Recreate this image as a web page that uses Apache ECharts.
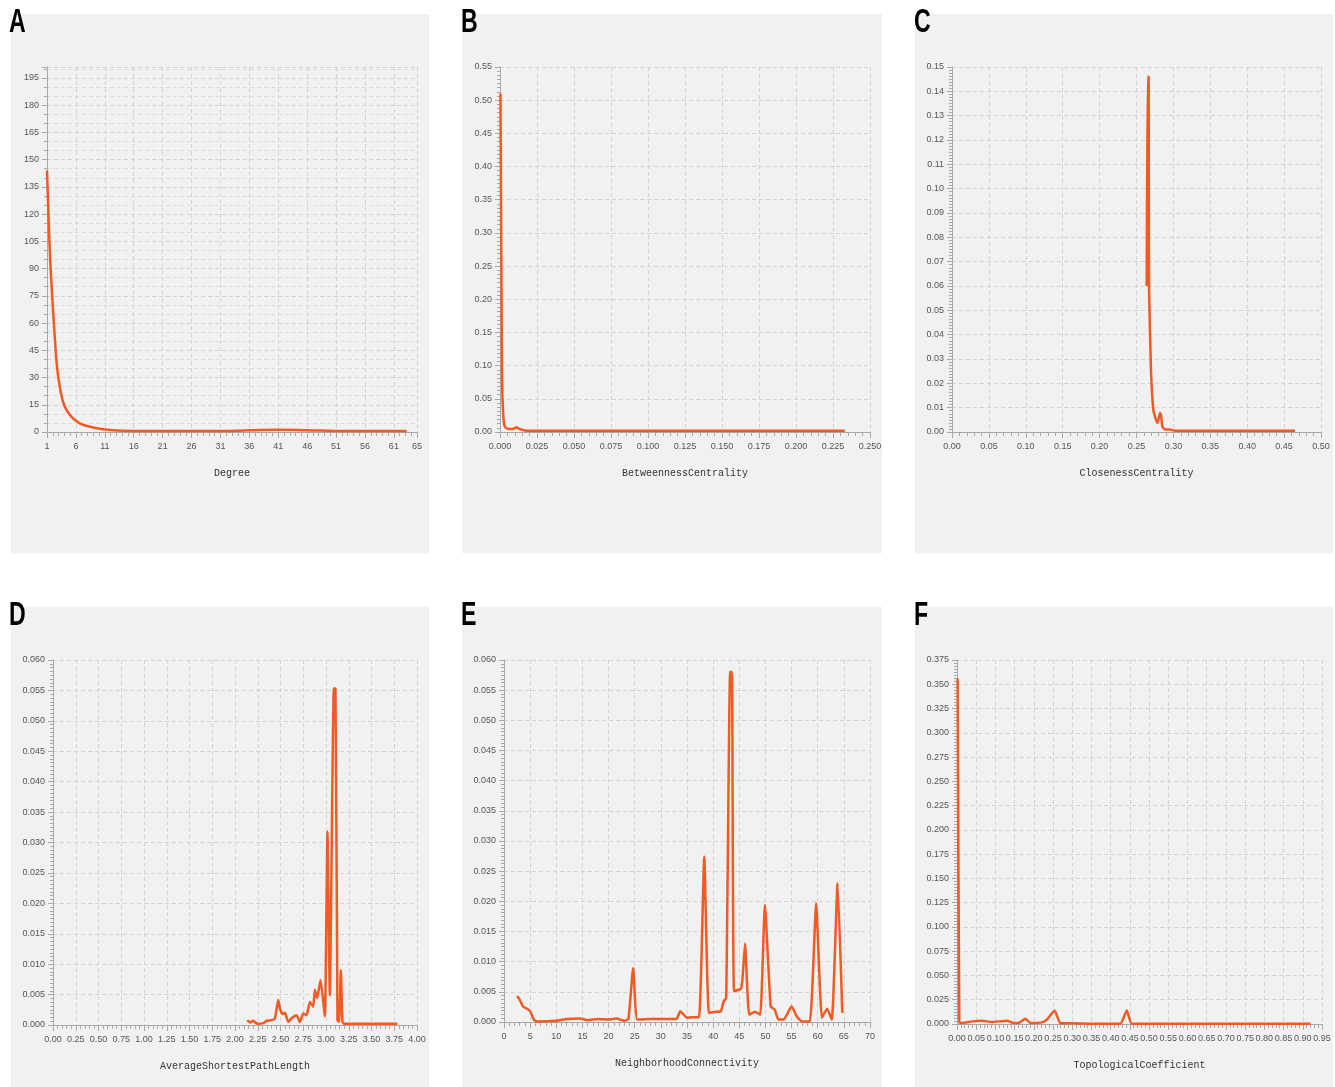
<!DOCTYPE html>
<html>
<head>
<meta charset="utf-8">
<script src="https://cdn.jsdelivr.net/npm/echarts@6/dist/echarts.min.js"></script>
<style>
html,body{margin:0;padding:0;background:#fff;}
#wrap{position:relative;width:1335px;height:1087px;}
.panel{position:absolute;background:#f1f1f1;}
#chart{position:absolute;left:0;top:0;width:1335px;height:1087px;}
</style>
</head>
<body>
<div id="wrap">
<div class="panel" style="left:11px;top:14px;width:418px;height:539px"></div>
<div class="panel" style="left:462px;top:14px;width:420px;height:539px"></div>
<div class="panel" style="left:915px;top:14px;width:418px;height:539px"></div>
<div class="panel" style="left:11px;top:607px;width:418px;height:480px"></div>
<div class="panel" style="left:462px;top:607px;width:420px;height:480px"></div>
<div class="panel" style="left:915px;top:607px;width:418px;height:480px"></div>
<div id="chart"></div>
</div>
<script>
// ---- data (x, density) ----
const panelLetters = ['A','B','C','D','E','F'];
const axisNames = ['Degree','BetweennessCentrality','ClosenessCentrality','AverageShortestPathLength','NeighborhoodConnectivity','TopologicalCoefficient'];

const degreeData = [[1.0,144],[1.47,101],[1.93,73],[2.33,53],[2.73,36],[3.31,23],[4.06,14],[5.2,8.5],[6.66,4.8],[8.4,2.9],[10.7,1.5],[14.1,0.7],[17,0.6],[21,0.5],[26,0.5],[31,0.5],[36,0.9],[41,1.3],[46,1.0],[51,0.6],[56,0.5],[61,0.5],[63.2,0.5]];

const betweennessData = [[0.0003,0.51],[0.0008,0.30],[0.0014,0.08],[0.0022,0.025],[0.0032,0.0085],[0.0054,0.0045],[0.0088,0.0045],[0.011,0.007],[0.0133,0.0045],[0.0178,0.002],[0.05,0.002],[0.1,0.002],[0.15,0.002],[0.2,0.002],[0.233,0.002]];

const closenessData = [[0.2638,0.06],[0.2651,0.146],[0.2665,0.146],[0.2669,0.061],[0.2696,0.0256],[0.2728,0.0092],[0.2764,0.0051],[0.2787,0.0037],[0.2818,0.0078],[0.2832,0.007],[0.285,0.0023],[0.2886,0.001],[0.2954,0.001],[0.302,0.0005],[0.35,0.0005],[0.4648,0.0005]];

const avgPathData = [[2.135,0.0008],[2.165,0.0004],[2.201,0.0007],[2.23,0.0003],[2.256,0.0002],[2.311,0.0003],[2.347,0.0007],[2.402,0.0008],[2.439,0.0011],[2.475,0.0041],[2.494,0.0027],[2.523,0.0018],[2.548,0.002],[2.585,0.0005],[2.622,0.0011],[2.676,0.0016],[2.713,0.0005],[2.75,0.0019],[2.786,0.0016],[2.823,0.0038],[2.859,0.003],[2.878,0.0058],[2.903,0.0044],[2.94,0.0074],[2.987,0.0014],[3.016,0.0318],[3.042,0.0049],[3.086,0.0553],[3.104,0.0553],[3.126,0.0008],[3.144,0.0005],[3.163,0.009],[3.181,0.0005],[3.199,0.0002],[3.5,0.0002],[3.784,0.0002]];

const neighborData = [[2.5,0.0043],[3.0,0.0037],[3.6,0.0026],[4.4,0.0022],[5.0,0.0018],[5.7,0.0004],[6.3,0.0001],[10,0.0002],[12,0.0005],[14.5,0.0006],[16,0.0003],[18,0.0005],[20,0.0004],[21.5,0.0006],[23,0.0002],[23.8,0.0005],[24.7,0.0089],[25.5,0.0004],[28,0.0005],[33,0.0005],[33.7,0.0018],[35,0.0007],[36,0.0008],[37.3,0.0008],[38.3,0.0274],[39.2,0.0015],[40.5,0.0017],[41.5,0.0018],[42,0.0034],[42.5,0.004],[43.25,0.058],[43.6,0.058],[44.0,0.0051],[45.3,0.0055],[45.6,0.007],[46.1,0.013],[46.9,0.0012],[48,0.0017],[49,0.0012],[49.9,0.0194],[51,0.0026],[51.8,0.002],[52.5,0.0004],[53.5,0.0004],[55,0.0026],[56,0.0009],[57,0.0001],[58.5,0.0001],[59.7,0.0197],[60.8,0.0007],[61.8,0.0022],[62.7,0.0004],[63.8,0.023],[64.7,0.0015]];

const topoData = [[0.0017,0.356],[0.006,0.0017],[0.013,0.001],[0.039,0.0027],[0.065,0.0034],[0.091,0.002],[0.13,0.0034],[0.147,0.001],[0.16,0.001],[0.178,0.0055],[0.191,0.001],[0.221,0.0017],[0.234,0.0045],[0.254,0.014],[0.269,0.0008],[0.3,0.0008],[0.35,0.0003],[0.425,0.0003],[0.442,0.014],[0.455,0.0003],[0.6,0.0003],[0.92,0.0003]];

const seriesData = [degreeData, betweennessData, closenessData, avgPathData, neighborData, topoData];

// axis ranges / ticks
const xMin = [1, 0, 0, 0, 0, 0];
const xMax = [65, 0.25, 0.5, 4, 70, 0.95];
const xInterval = [5, 0.025, 0.05, 0.25, 5, 0.05];
const xDecimals = [0, 3, 2, 2, 0, 2];
const yMax = [201, 0.55, 0.15, 0.06, 0.06, 0.375];
const yInterval = [15, 0.05, 0.01, 0.005, 0.005, 0.025];
const yDecimals = [0, 2, 2, 3, 3, 3];

// ---- layout ----
const grids = [
  {left:47, right:918, top:67, bottom:655},
  {left:500, right:465, top:67, bottom:655},
  {left:952, right:14, top:67, bottom:655},
  {left:53, right:918, top:660, bottom:62},
  {left:504, right:465, top:660, bottom:65},
  {left:957, right:13, top:660, bottom:63}
];
const letterPos = [[9,6],[461,6],[914,6],[9,599],[461,599],[914,599]];

const tickFont = '"Liberation Sans Narrow","Arial Narrow","Liberation Sans",sans-serif';
const axisCol = '#a8a8a8';
const gridCol = '#d4d4d4';

const xAxes = [], yAxes = [], series = [], graphics = [];
for (let i = 0; i < 6; i++) {
  xAxes.push({
    type:'value', gridIndex:i, min:xMin[i], max:xMax[i], interval:xInterval[i],
    name: axisNames[i], nameLocation:'middle', nameGap:36,
    nameTextStyle:{fontFamily:'"Liberation Mono","Courier New",monospace', fontSize:10, color:'#333'},
    axisLine:{show:true, onZero:false, lineStyle:{color:axisCol}},
    axisTick:{show:true, length:6, lineStyle:{color:axisCol}},
    minorTick:{show:true, splitNumber:5, length:4, lineStyle:{color:axisCol}},
    axisLabel:{margin:10, fontSize:9, fontFamily:tickFont, color:'#555', showMinLabel:true, showMaxLabel:true,
      formatter: (v) => v.toFixed(xDecimals[i])},
    splitLine:{show:true, lineStyle:{color:gridCol, type:[4,3], width:1}}
  });
  yAxes.push({
    type:'value', gridIndex:i, min:0, max:yMax[i], interval:yInterval[i],
    axisLine:{show:true, lineStyle:{color:axisCol}},
    axisTick:{show:true, length:5, lineStyle:{color:axisCol}},
    minorTick:{show:true, splitNumber: i===0 ? 3 : 8, length:3, lineStyle:{color:axisCol}},
    minorSplitLine:{show: i===0, lineStyle:{color:'#dcdcdc', type:[4,3], width:1}},
    axisLabel:{margin:8, fontSize:9, fontFamily:tickFont, color:'#555', showMaxLabel: i!==0,
      formatter: (v) => v.toFixed(yDecimals[i])},
    splitLine:{show:true, lineStyle:{color:gridCol, type:[4,3], width:1}}
  });
  series.push({
    type:'line', xAxisIndex:i, yAxisIndex:i, data:seriesData[i],
    showSymbol:false, smooth: (i===0) ? 0.4 : 0.15,
    lineStyle:{color:'#f05a24', width:2.5}, itemStyle:{color:'#f05a24'}, z:5
  });
  graphics.push({
    type:'text', left:letterPos[i][0], top:letterPos[i][1], scaleX:0.68,
    style:{text:panelLetters[i], fontSize:34, fontWeight:'bold', fontFamily:'"Liberation Sans Narrow","Arial Narrow","Liberation Sans",sans-serif', fill:'#000'}
  });
}

const chart = echarts.init(document.getElementById('chart'), null, {renderer:'canvas'});
chart.setOption({
  backgroundColor:'transparent',
  animation:false,
  grid: grids,
  xAxis: xAxes,
  yAxis: yAxes,
  series: series,
  graphic: graphics
});
</script>
</body>
</html>
